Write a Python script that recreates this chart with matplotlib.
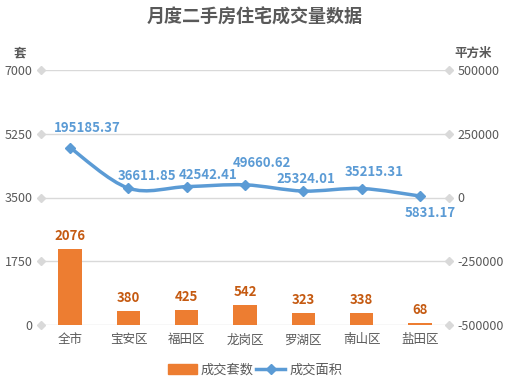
import matplotlib
matplotlib.use("Agg")
from matplotlib import pyplot as plt
from matplotlib.path import Path
from matplotlib.patches import PathPatch
from matplotlib.lines import Line2D
from matplotlib.patches import Patch

plt.rcParams['font.family'] = ['Noto Sans CJK SC', 'DejaVu Sans']

districts = ["全市", "宝安区", "福田区", "龙岗区", "罗湖区", "南山区", "盐田区"]
units = [2076, 380, 425, 542, 323, 338, 68]
area = [195185.37, 36611.85, 42542.41, 49660.62, 25324.01, 35215.31, 5831.17]
left_ticks = [0, 1750, 3500, 5250, 7000]
right_ticks = [-500000, -250000, 0, 250000, 500000]

BAR = "#ED7D31"
LINE = "#5B9BD5"
GRID = "#D9D9D9"
TXT = "#595959"

# label offsets in pixels for the area labels
offs = [(17, 20), (19, 12), (21, 12), (17, 22), (3, 12), (13, 17), (10, -17)]

fig = plt.figure(figsize=(5.09, 3.85), dpi=100)
ax = fig.add_axes([41/509, 1-325/385, 408/509, 255/385])
ax2 = ax.twinx()
ax.set_zorder(1)
ax2.set_zorder(2)
ax.patch.set_visible(False)

x = list(range(len(districts)))
ax.bar(x, units, width=0.4, color=BAR, zorder=3)
for i, v in enumerate(units):
    ax.annotate(str(v), (i, v), xytext=(0, 6), textcoords="offset pixels",
                ha="center", va="bottom", fontsize=9.5, fontweight="bold",
                color="#C55A11")

ax.set_xlim(-0.5, len(districts) - 0.5)
ax.set_ylim(0, 7000)
ax.set_yticks(left_ticks)
ax.set_yticklabels([str(t) for t in left_ticks])
ax.set_xticks(x)
ax.set_xticklabels(districts)
for t in left_ticks:
    ax.axhline(t, color=GRID, lw=1, zorder=0)
    ax.plot([-0.5, len(districts) - 0.5], [t, t], ls="none", marker="D",
            ms=4, color=GRID, clip_on=False, zorder=0)
for s in ax.spines.values():
    s.set_visible(False)
for s in ax2.spines.values():
    s.set_visible(False)
ax.tick_params(axis="both", length=0, labelsize=9, colors=TXT, pad=6)

ax2.set_ylim(-500000, 500000)
ax2.set_yticks(right_ticks)
ax2.set_yticklabels([str(t) for t in right_ticks])
ax2.tick_params(axis="y", length=0, labelsize=9, colors=TXT, pad=6)

# smooth line via Catmull-Rom -> cubic bezier through data points
pts = list(zip(x, area))
verts = [pts[0]]
codes = [Path.MOVETO]
for i in range(len(pts) - 1):
    p0 = pts[i - 1] if i > 0 else pts[i]
    p1 = pts[i]
    p2 = pts[i + 1]
    p3 = pts[i + 2] if i + 2 < len(pts) else pts[i + 1]
    c1 = (p1[0] + (p2[0] - p0[0]) / 6, p1[1] + (p2[1] - p0[1]) / 6)
    c2 = (p2[0] - (p3[0] - p1[0]) / 6, p2[1] - (p3[1] - p1[1]) / 6)
    verts += [c1, c2, p2]
    codes += [Path.CURVE4] * 3
ax2.add_patch(PathPatch(Path(verts, codes), fill=False, edgecolor=LINE,
                        lw=2.5, capstyle="round", zorder=3))
ax2.plot(x, area, ls="none", marker="D", ms=5, color=LINE, zorder=4)
for i, v in enumerate(area):
    ax2.annotate(f"{v:.2f}", (i, v), xytext=offs[i], textcoords="offset pixels",
                 ha="center", va="center", fontsize=9.5, fontweight="bold",
                 color=LINE)

fig.text(255/509, 1-17/385, "月度二手房住宅成交量数据", ha="center", va="center",
         fontsize=13, fontweight="bold", color=TXT)
fig.text(20/509, 1-53/385, "套", ha="center", va="center", fontsize=9,
         fontweight="bold", color=TXT)
fig.text(473/509, 1-53/385, "平方米", ha="center", va="center", fontsize=9,
         fontweight="bold", color=TXT)

handles = [Patch(color=BAR), Line2D([], [], color=LINE, lw=2.5, marker="D", ms=5)]
fig.legend(handles, ["成交套数", "成交面积"], loc="center", ncol=2,
           bbox_to_anchor=(255/509, 1-370/385), frameon=False, fontsize=9.5,
           handlelength=2.2, handletextpad=0.3, columnspacing=0.2,
           labelcolor=TXT)

fig.savefig("out.png", dpi=100)
